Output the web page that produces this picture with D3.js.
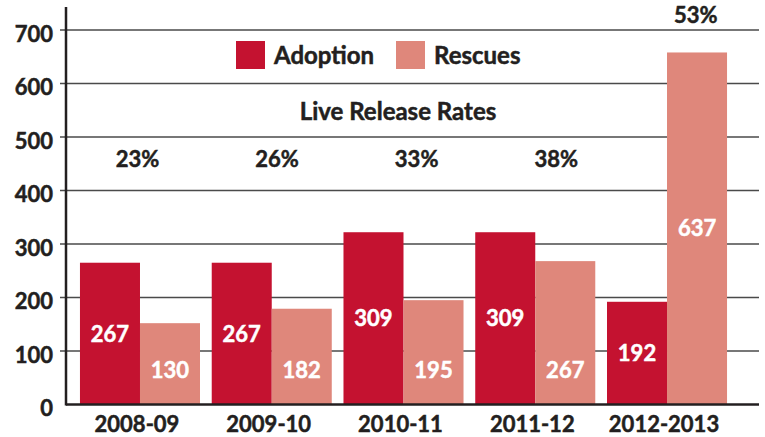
<!DOCTYPE html>
<html>
<head>
<meta charset="utf-8">
<script src="https://cdn.jsdelivr.net/npm/d3@7"></script>
<style>
  html, body { margin: 0; padding: 0; background: #fff; }
  svg text { font-family: Lato, "Open Sans", sans-serif; font-weight: 700; fill: #231f20; stroke: #231f20; stroke-width: 0.5px; }
  svg text.on-bar { fill: #fff; stroke: #fff; }
</style>
</head>
<body>
<div class="chart"></div>
<script>
const years = ['2008-09', '2009-10', '2010-11', '2011-12', '2012-2013'];
// bar heights as drawn in the picture
const adoption = [265, 265, 322, 322, 192];
const rescues = [152, 179, 195, 268, 658];
// numbers printed on the bars
const adoptionLabels = ['267', '267', '309', '309', '192'];
const rescuesLabels = ['130', '182', '195', '267', '637'];
const releaseRates = ['23%', '26%', '33%', '38%', '53%'];
const yTicks = [0, 100, 200, 300, 400, 500, 600, 700];

const width = 765;
const height = 437;
const plot = {left: 66, right: 759, top: 30, bottom: 404.5};
const colors = {adoption: '#c41230', rescues: '#df877b'};

const svg = d3.select('.chart')
  .append('svg')
  .attr('width', width)
  .attr('height', height);

const yScale = d3.scaleLinear()
  .domain([0, 700])
  .range([plot.bottom, plot.top]);

const xScale = d3.scaleBand()
  .domain(years)
  .range([plot.left, 741])
  .paddingInner(0.089)
  .paddingOuter(0.106);

const subScale = d3.scaleBand()
  .domain(['adoption', 'rescues'])
  .range([0, xScale.bandwidth()]);

// gridlines
svg.append('g')
  .selectAll('line')
  .data(yTicks.filter(d => d > 0))
  .enter()
  .append('line')
  .attr('x1', plot.left - 6)
  .attr('x2', plot.right)
  .attr('y1', d => yScale(d))
  .attr('y2', d => yScale(d))
  .style('stroke', '#4a4a4a')
  .style('stroke-width', 1.6);

// bars
const rows = years.map((y, i) => ({
  year: y,
  adoption: adoption[i], rescues: rescues[i],
  adoptionLabel: adoptionLabels[i], rescuesLabel: rescuesLabels[i],
  rate: releaseRates[i]
}));

const groups = svg.selectAll('.grp')
  .data(rows)
  .enter()
  .append('g')
  .attr('class', 'grp')
  .attr('transform', d => `translate(${xScale(d.year)},0)`);

['adoption', 'rescues'].forEach(key => {
  groups.append('rect')
    .attr('x', subScale(key))
    .attr('y', d => yScale(d[key]))
    .attr('width', subScale.bandwidth())
    .attr('height', d => yScale(0) - yScale(d[key]))
    .style('fill', colors[key]);

  groups.append('text')
    .attr('class', 'on-bar')
    .attr('x', subScale(key) + subScale.bandwidth() / 2)
    .attr('y', d => {
      // adoption labels sit mid bar, short rescue bars near the base
      if (key === 'rescues' && d[key] < 400) return yScale(65);
      return (yScale(d[key]) + yScale(0)) / 2;
    })
    .attr('dy', '0.36em')
    .attr('text-anchor', 'middle')
    .style('font-size', '22px')
    .text(d => d[key + 'Label']);
});

// axes lines
svg.append('line')
  .attr('x1', plot.left).attr('x2', plot.left)
  .attr('y1', 7).attr('y2', plot.bottom + 1)
  .style('stroke', '#231f20')
  .style('stroke-width', 2.5);
svg.append('line')
  .attr('x1', plot.left).attr('x2', plot.right)
  .attr('y1', plot.bottom).attr('y2', plot.bottom)
  .style('stroke', '#231f20')
  .style('stroke-width', 2.5);

// y tick labels
svg.append('g')
  .selectAll('text')
  .data(yTicks)
  .enter()
  .append('text')
  .attr('x', 53)
  .attr('y', d => yScale(d) + 4)
  .attr('dy', '0.36em')
  .attr('text-anchor', 'end')
  .style('font-size', '22px')
  .text(d => d);

// x labels
svg.append('g')
  .selectAll('text')
  .data(years)
  .enter()
  .append('text')
  .attr('x', d => xScale(d) + xScale.bandwidth() / 2 - 3)
  .attr('y', 432)
  .attr('text-anchor', 'middle')
  .style('font-size', '22px')
  .text(d => d);

// legend
const legend = [['Adoption', 'adoption', 236], ['Rescues', 'rescues', 396]];
legend.forEach(([name, key, lx]) => {
  svg.append('rect')
    .attr('x', lx).attr('y', 41)
    .attr('width', 29).attr('height', 28)
    .style('fill', colors[key]);
  svg.append('text')
    .attr('x', lx + 38).attr('y', 64)
    .style('font-size', '24px')
    .text(name);
});

svg.append('text')
  .attr('x', 398).attr('y', 120)
  .attr('text-anchor', 'middle')
  .style('font-size', '24px')
  .text('Live Release Rates');

// release rates row
const rateScale = d3.scalePoint()
  .domain(years)
  .range([137.5, 695.8]);

svg.append('g')
  .selectAll('text')
  .data(rows)
  .enter()
  .append('text')
  .attr('x', d => rateScale(d.year))
  .attr('y', d => yScale(d.rescues) < 170 ? yScale(d.rescues) - 29 : 167)
  .attr('text-anchor', 'middle')
  .style('font-size', '22px')
  .text(d => d.rate);
</script>
</body>
</html>
